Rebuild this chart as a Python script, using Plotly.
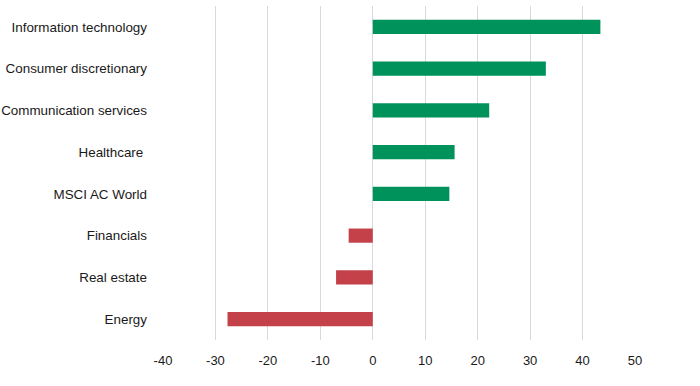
import plotly.graph_objects as go

categories = ["Information technology", "Consumer discretionary", "Communication services",
              "Healthcare ", "MSCI AC World", "Financials", "Real estate", "Energy"]
values = [43.4, 33.0, 22.2, 15.6, 14.6, -4.6, -7.0, -27.7]
tick_vals = [-40, -30, -20, -10, 0, 10, 20, 30, 40, 50]
tick_text = ["-40", "-30", "-20", "-10", "0", "10", "20", "30", "40", "50"]

GREEN = "#00925b"
RED = "#c4414a"
colors = [GREEN if v >= 0 else RED for v in values]

fig = go.Figure(go.Bar(
    x=values, y=categories, orientation="h",
    marker=dict(color=colors, line=dict(width=0)),
    width=0.34,
    hoverinfo="skip",
))

fig.update_layout(
    width=700, height=386,
    margin=dict(l=163, r=65, t=6, b=46),
    paper_bgcolor="white", plot_bgcolor="white",
    font=dict(family="Liberation Sans, Arial, sans-serif", size=13, color="#1a1a1a"),
    showlegend=False,
)
fig.update_xaxes(
    range=[-40, 50], tickvals=tick_vals, ticktext=tick_text,
    showgrid=True, gridcolor="#d9d9d9", gridwidth=1,
    zeroline=True, zerolinecolor="#d9d9d9", zerolinewidth=1,
    showline=False, ticks="outside", ticklen=8, tickcolor="rgba(0,0,0,0)",
    automargin=False,
)
fig.update_yaxes(
    autorange="reversed", showgrid=False, showline=False,
    ticks="", ticklabelstandoff=15, automargin=False,
    tickfont=dict(size=13.4),
)

fig.write_html("out.html", config={"displayModeBar": False},
               post_script="document.body.style.margin='0';")
